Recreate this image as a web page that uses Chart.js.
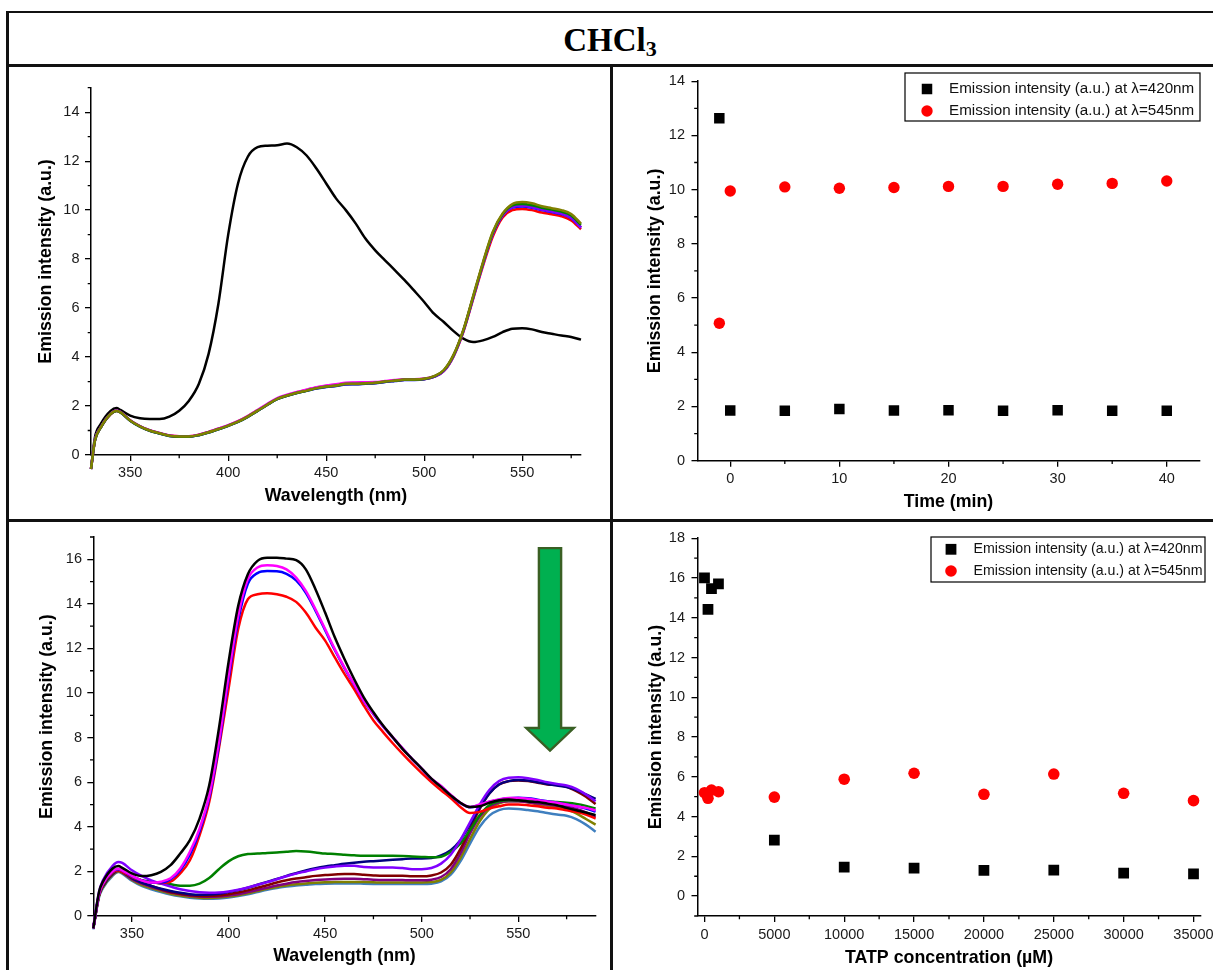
<!DOCTYPE html>
<html>
<head>
<meta charset="utf-8">
<script src="https://cdn.jsdelivr.net/npm/chart.js"></script>
<style>
  html, body { margin: 0; padding: 0; background: #fff; }
  body { width: 1213px; height: 970px; overflow: hidden; position: relative; }
  .rule { position: absolute; background: #111; }
  .panel { position: absolute; }
  #title {
    position: absolute; left: 8px; width: 1204px; top: 22px; line-height: 33px;
    text-align: center; color: #000;
    font: bold 33px "Liberation Serif", "Times New Roman", serif;
  }
  #title sub { font-size: 22px; vertical-align: -5px; line-height: 0; }
</style>
</head>
<body>
<div class="rule" style="left:6px;top:10.7px;width:1207px;height:2.6px"></div>
<div class="rule" style="left:6px;top:10.7px;width:2.5px;height:960px"></div>
<div class="rule" style="left:6px;top:64px;width:1207px;height:2.6px"></div>
<div class="rule" style="left:6px;top:519px;width:1207px;height:2.6px"></div>
<div class="rule" style="left:610.4px;top:64px;width:2.2px;height:906px"></div>
<div id="title">CHCl<sub>3</sub></div>

<canvas id="tl" class="panel" width="580" height="445" style="left:20px;top:70px"></canvas>
<canvas id="tr" class="panel" width="611" height="449" style="left:614px;top:66px"></canvas>
<canvas id="bl" class="panel" width="588" height="447" style="left:20px;top:523px"></canvas>
<canvas id="br" class="panel" width="611" height="447" style="left:614px;top:523px"></canvas>

<script>
// ---------- Spectra, time series (top row) ----------
const wlTop = [330,332,335,340,343,345,350,355,360,365,370,375,380,385,390,395,400,405,410,415,420,425,430,435,440,445,450,455,460,465,470,475,480,485,490,495,500,505,510,515,520,525,530,535,540,545,550,555,560,565,570,575,580];

const tlBlack   = [-0.57,0.72,1.27,1.8,1.92,1.84, 1.61,1.5,1.47,1.47,1.57,1.81,2.22,2.9,4.13,6.18, 9.0,11.09,12.18,12.57,12.63,12.65,12.72,12.57,12.23,11.7, 11.09,10.48,10.0,9.46,8.84,8.36,7.95,7.55,7.14,6.7, 6.25,5.77,5.43,5.06,4.75,4.61,4.68,4.82,5.02,5.16, 5.18,5.13,5.02,4.95,4.88,4.82,4.71];
const tlRed     = [-0.57,0.59,1.13,1.66,1.8,1.74, 1.41,1.17,1.0,0.89,0.8,0.77,0.77,0.83,0.94,1.07, 1.21,1.38,1.59,1.83,2.07,2.3,2.44,2.56,2.66,2.76, 2.82,2.87,2.93,2.94,2.95,2.96,3.0,3.04,3.07,3.07, 3.1,3.19,3.42,4.03,5.03,6.38,7.72,8.92,9.7,10.0, 10.05,10.0,9.9,9.83,9.75,9.58,9.22];
const tlBlue    = [-0.57,0.6,1.14,1.68,1.81,1.75, 1.4,1.16,0.99,0.88,0.78,0.75,0.75,0.81,0.92,1.05, 1.19,1.35,1.56,1.8,2.05,2.28,2.42,2.53,2.62,2.71, 2.78,2.82,2.88,2.89,2.91,2.93,2.98,3.02,3.06,3.06, 3.09,3.19,3.43,4.05,5.07,6.43,7.8,9.02,9.77,10.1, 10.15,10.1,10.0,9.92,9.84,9.67,9.28];
const tlMagenta = [-0.57,0.6,1.14,1.69,1.82,1.76, 1.42,1.18,1.01,0.9,0.8,0.77,0.77,0.83,0.94,1.08, 1.22,1.38,1.59,1.84,2.09,2.32,2.46,2.57,2.67,2.77, 2.84,2.89,2.95,2.96,2.97,2.98,3.02,3.06,3.09,3.09, 3.12,3.21,3.44,4.06,5.08,6.44,7.81,9.04,9.8,10.15, 10.2,10.14,10.04,9.96,9.88,9.7,9.3];
const tlViolet  = [-0.57,0.59,1.13,1.68,1.81,1.75, 1.41,1.17,1.0,0.89,0.79,0.76,0.76,0.82,0.93,1.06, 1.2,1.36,1.57,1.81,2.06,2.29,2.43,2.54,2.63,2.73, 2.79,2.83,2.89,2.9,2.92,2.94,2.99,3.03,3.07,3.07, 3.1,3.2,3.44,4.06,5.08,6.44,7.81,9.04,9.79,10.12, 10.18,10.12,10.02,9.94,9.86,9.69,9.3];
const tlGreen   = [-0.57,0.58,1.12,1.67,1.8,1.74, 1.4,1.16,0.99,0.88,0.78,0.75,0.75,0.81,0.92,1.05, 1.19,1.35,1.56,1.8,2.05,2.28,2.42,2.53,2.62,2.72, 2.79,2.83,2.9,2.9,2.92,2.94,2.99,3.03,3.07,3.07, 3.1,3.21,3.46,4.08,5.1,6.47,7.84,9.08,9.83,10.2, 10.25,10.2,10.1,10.02,9.94,9.78,9.4];
const tlOlive   = [-0.57,0.59,1.13,1.68,1.81,1.75, 1.41,1.17,1.0,0.89,0.79,0.76,0.76,0.82,0.93,1.06, 1.2,1.36,1.57,1.81,2.06,2.29,2.43,2.54,2.63,2.73, 2.8,2.84,2.91,2.91,2.93,2.95,3.0,3.04,3.08,3.08, 3.11,3.22,3.47,4.1,5.12,6.5,7.88,9.12,9.86,10.25, 10.33,10.28,10.16,10.08,10.0,9.84,9.45];

const trTime = [-1, 0, 5, 10, 15, 20, 25, 30, 35, 40];
const trI420 = [12.63, 1.85, 1.84, 1.91, 1.85, 1.86, 1.84, 1.86, 1.84, 1.84];
const trI545 = [5.07, 9.95, 10.1, 10.05, 10.08, 10.12, 10.12, 10.2, 10.23, 10.32];

// ---------- Spectra, TATP titration (bottom row) ----------
const wlBottom = [330,333,335,340,343,345,350,355,360,365,370,375,380,385,390,395,400,405,410,415,420,425,430,435,440,445,450,455,460,465,470,475,480,485,490,495,500,505,510,515,520,525,530,535,540,545,550,555,560,565,570,575,580,585,590];

const blBlack   = [-0.55,1.09,1.54,2.13,2.24,2.16, 1.91,1.79,1.83,1.98,2.28,2.8,3.4,4.37,5.86,8.4, 11.38,13.91,15.33,15.93,16.07,16.07,16.03,15.96,15.55,14.66, 13.61,12.5,11.53,10.63,9.81,9.14,8.54,8.02,7.5,7.05, 6.61,6.16,5.79,5.41,5.08,4.89,4.92,5.08,5.19,5.22, 5.19,5.14,5.11,5.04,4.97,4.85,4.74,4.64,4.52];
const blMagenta = [-0.55,1.0,1.45,2.0,2.12,2.05, 1.8,1.6,1.5,1.54,1.69,2.13,2.88,3.92,5.41,7.8, 10.78,13.47,15.11,15.63,15.73,15.7,15.55,15.18,14.58,13.76, 12.87,11.97,11.15,10.41,9.66,9.07,8.51,8.02,7.53,7.05, 6.61,6.16,5.83,5.44,5.08,4.89,5.0,5.14,5.23,5.29, 5.29,5.26,5.19,5.14,5.08,5.0,4.92,4.85,4.74];
const blBlue    = [-0.55,1.0,1.45,2.0,2.1,2.03, 1.78,1.6,1.5,1.5,1.65,2.05,2.75,3.8,5.3,7.65, 10.6,13.25,14.9,15.38,15.47,15.46,15.35,15.05,14.5,13.7, 12.82,11.93,11.12,10.38,9.64,9.05,8.5,8.0,7.52,7.04, 6.6,6.15,5.82,5.42,5.06,4.88,4.98,5.12,5.22,5.28, 5.3,5.28,5.22,5.15,5.08,5.0,4.92,4.82,4.68];
const blRed     = [-0.55,0.95,1.4,1.95,2.05,1.98, 1.75,1.6,1.5,1.48,1.54,1.91,2.5,3.62,5.11,7.5, 10.18,12.87,14.21,14.43,14.48,14.43,14.32,14.09,13.61,12.94, 12.35,11.6,10.86,10.18,9.44,8.77,8.25,7.75,7.28,6.83, 6.41,6.01,5.64,5.29,4.89,4.62,4.67,4.82,4.92,5.0, 5.0,4.97,4.92,4.86,4.82,4.74,4.67,4.55,4.37];
const blGreen   = [-0.55,0.95,1.4,1.95,2.08,2.0, 1.76,1.61,1.54,1.46,1.42,1.36,1.36,1.45,1.7,2.1, 2.45,2.68,2.78,2.8,2.83,2.85,2.88,2.91,2.89,2.85, 2.8,2.78,2.75,2.72,2.7,2.7,2.7,2.7,2.69,2.67, 2.65,2.63,2.66,2.88,3.25,3.85,4.52,4.97,5.14,5.19, 5.19,5.16,5.16,5.14,5.11,5.08,5.03,4.94,4.82];
const blNavy    = [-0.55,0.95,1.35,1.9,2.05,1.98, 1.7,1.5,1.35,1.22,1.12,1.04,0.98,0.95,0.96,1.0, 1.07,1.16,1.27,1.4,1.53,1.66,1.8,1.92,2.04,2.14, 2.22,2.28,2.34,2.39,2.43,2.46,2.49,2.52,2.55,2.58, 2.58,2.6,2.72,2.95,3.4,4.1,4.85,5.5,5.9,6.05, 6.1,6.08,6.0,5.92,5.85,5.78,5.65,5.45,5.25];
const blViolet  = [-0.5,1.1,1.6,2.25,2.42,2.38, 2.05,1.8,1.6,1.45,1.32,1.2,1.12,1.06,1.04,1.05, 1.1,1.18,1.28,1.4,1.52,1.65,1.78,1.9,2.0,2.1, 2.17,2.22,2.25,2.25,2.2,2.18,2.18,2.18,2.15,2.1, 2.1,2.15,2.35,2.75,3.4,4.2,5.0,5.65,6.05,6.2, 6.22,6.18,6.1,6.0,5.92,5.85,5.7,5.45,5.15];
const blWine    = [-0.55,0.95,1.35,1.9,2.05,1.98, 1.7,1.5,1.35,1.2,1.08,1.0,0.94,0.9,0.9,0.92, 0.98,1.05,1.15,1.27,1.38,1.5,1.6,1.68,1.74,1.8, 1.84,1.86,1.88,1.88,1.85,1.82,1.8,1.8,1.8,1.78, 1.78,1.82,1.95,2.3,3.0,3.9,4.8,5.5,5.9,6.05, 6.08,6.05,5.98,5.9,5.88,5.8,5.6,5.35,5.02];
const blPurple  = [-0.55,0.95,1.35,1.88,2.03,1.95, 1.65,1.45,1.3,1.17,1.05,0.97,0.91,0.87,0.86,0.87, 0.92,0.98,1.07,1.17,1.27,1.37,1.45,1.52,1.57,1.61, 1.64,1.66,1.67,1.67,1.65,1.63,1.62,1.62,1.61,1.6, 1.6,1.63,1.75,2.1,2.8,3.7,4.45,4.9,5.1,5.15, 5.15,5.1,5.05,5.0,4.95,4.9,4.8,4.65,4.45];
const blOlive   = [-0.55,0.9,1.3,1.85,2.0,1.93, 1.62,1.4,1.25,1.12,1.0,0.92,0.86,0.82,0.81,0.83, 0.87,0.93,1.02,1.12,1.22,1.3,1.37,1.42,1.46,1.49, 1.51,1.52,1.53,1.53,1.52,1.51,1.5,1.5,1.5,1.5, 1.5,1.52,1.62,1.95,2.6,3.45,4.25,4.8,5.05,5.15, 5.15,5.1,5.0,4.95,4.9,4.8,4.6,4.35,4.1];
const blSteel   = [-0.6,0.85,1.25,1.8,1.97,1.9, 1.58,1.35,1.2,1.07,0.96,0.88,0.82,0.78,0.77,0.79, 0.83,0.9,0.98,1.08,1.18,1.26,1.32,1.37,1.4,1.43, 1.45,1.46,1.46,1.46,1.45,1.44,1.43,1.43,1.43,1.43, 1.43,1.45,1.55,1.85,2.45,3.25,4.0,4.5,4.75,4.82, 4.8,4.75,4.7,4.62,4.55,4.5,4.35,4.1,3.78];

const brConc = [0, 250, 500, 1000, 5000, 10000, 15000, 20000, 25000, 30000, 35000];
const brI420 = [16.0, 14.42, 15.46, 15.7, 2.81, 1.46, 1.41, 1.3, 1.31, 1.15, 1.12];
const brI545 = [5.2, 4.92, 5.33, 5.25, 4.98, 5.88, 6.18, 5.12, 6.14, 5.17, 4.8];

// ---------- Axis tick values ----------
const tlXMajor = [350, 400, 450, 500, 550], tlXMinor = [375, 425, 475, 525, 575];
const tlYMajor = [0, 2, 4, 6, 8, 10, 12, 14], tlYMinor = [1, 3, 5, 7, 9, 11, 13, 15];
const trXMajor = [0, 10, 20, 30, 40], trXMinor = [5, 15, 25, 35];
const trYMajor = [0, 2, 4, 6, 8, 10, 12, 14], trYMinor = [1, 3, 5, 7, 9, 11, 13];
const blXMajor = [350, 400, 450, 500, 550], blXMinor = [375, 425, 475, 525, 575];
const blYMajor = [0, 2, 4, 6, 8, 10, 12, 14, 16], blYMinor = [1, 3, 5, 7, 9, 11, 13, 15, 17];
const brXMajor = [0, 5000, 10000, 15000, 20000, 25000, 30000, 35000];
const brXMinor = [2500, 7500, 12500, 17500, 22500, 27500, 32500];
const brYMajor = [0, 2, 4, 6, 8, 10, 12, 14, 16, 18], brYMinor = [-1, 1, 3, 5, 7, 9, 11, 13, 15, 17];

const yTitle = 'Emission intensity (a.u.)';
const label420 = 'Emission intensity (a.u.) at \u03bb=420nm';
const label545 = 'Emission intensity (a.u.) at \u03bb=545nm';

// ---------- Shared helpers ----------
const FONT = '"Liberation Sans", Arial, Helvetica, sans-serif';
Chart.defaults.font.family = FONT;
Chart.defaults.animation = false;

const pts = (xs, ys) => xs.map((x, i) => ({ x: x, y: ys[i] }));

function axis(o) {
  const horiz = o.position === 'bottom';
  return {
    type: 'linear', position: o.position, min: o.min, max: o.max,
    afterFit: s => { if (horiz) s.height = o.size; else s.width = o.size; },
    afterBuildTicks: s => { s.ticks = o.major.map(v => ({ value: v })); },
    grid: { drawOnChartArea: false, drawTicks: true, tickLength: 6, color: '#000', lineWidth: 1.3 },
    border: { display: true, color: '#000', width: 1.5 },
    ticks: {
      autoSkip: false, maxRotation: 0, minRotation: 0, padding: o.tickPad,
      color: '#1a1a1a', font: { family: FONT, size: 14.5 },
      callback: v => String(v)
    },
    title: {
      display: true, text: o.title, color: '#000',
      font: { family: FONT, size: 17.8, weight: 'bold' },
      padding: horiz ? { top: 0, bottom: o.titlePad } : { top: o.titlePad, bottom: 0 }
    }
  };
}

// short outward minor ticks between the labelled ones
const minorTicks = {
  id: 'minorTicks',
  afterDraw(chart, args, o) {
    const { ctx, chartArea, scales } = chart;
    ctx.save();
    ctx.strokeStyle = '#000';
    ctx.lineWidth = 1.3;
    ctx.beginPath();
    (o.x || []).forEach(v => {
      const p = scales.x.getPixelForValue(v);
      ctx.moveTo(p, chartArea.bottom); ctx.lineTo(p, chartArea.bottom + o.len);
    });
    (o.y || []).forEach(v => {
      const p = scales.y.getPixelForValue(v);
      ctx.moveTo(chartArea.left, p); ctx.lineTo(chartArea.left - o.len, p);
    });
    ctx.stroke();
    ctx.restore();
  }
};

// framed legend with one row per dataset (positions in page pixels)
const boxedLegend = {
  id: 'boxedLegend',
  afterDraw(chart, args, o) {
    const ctx = chart.ctx;
    const r = chart.canvas.getBoundingClientRect();
    ctx.save();
    ctx.translate(-r.left, -r.top);
    const [l, t, rr, b] = o.box;
    ctx.fillStyle = '#fff';
    ctx.fillRect(l, t, rr - l, b - t);
    ctx.strokeStyle = '#000';
    ctx.lineWidth = 1.2;
    ctx.strokeRect(l, t, rr - l, b - t);
    ctx.font = o.fontSize + 'px ' + FONT;
    ctx.textBaseline = 'middle';
    ctx.textAlign = 'left';
    chart.data.datasets.forEach((ds, i) => {
      const y = o.rows[i];
      ctx.fillStyle = ds.backgroundColor;
      if (ds.pointStyle === 'rect') {
        ctx.fillRect(o.markerX - o.square / 2, y - o.square / 2, o.square, o.square);
      } else {
        ctx.beginPath(); ctx.arc(o.markerX, y, o.dot, 0, Math.PI * 2); ctx.fill();
      }
      ctx.fillStyle = '#111';
      ctx.fillText(ds.label, o.textX, y);
    });
    ctx.restore();
  }
};

// block arrow marking the decrease of the 420 nm band
const downArrow = {
  id: 'downArrow',
  afterDatasetsDraw(chart, args, o) {
    const { ctx, scales } = chart;
    const cx = scales.x.getPixelForValue(o.x);
    const top = scales.y.getPixelForValue(o.top);
    const neck = scales.y.getPixelForValue(o.neck);
    const tip = scales.y.getPixelForValue(o.tip);
    ctx.save();
    ctx.beginPath();
    ctx.moveTo(cx - o.shaft, top);
    ctx.lineTo(cx + o.shaft, top);
    ctx.lineTo(cx + o.shaft, neck);
    ctx.lineTo(cx + o.head, neck);
    ctx.lineTo(cx, tip);
    ctx.lineTo(cx - o.head, neck);
    ctx.lineTo(cx - o.shaft, neck);
    ctx.closePath();
    ctx.fillStyle = '#00b050';
    ctx.fill();
    ctx.lineWidth = 2.4;
    ctx.lineJoin = 'miter';
    ctx.strokeStyle = '#3a5f24';
    ctx.stroke();
    ctx.restore();
  }
};

function spectrum(label, xs, ys, color) {
  return {
    label: label, data: pts(xs, ys), borderColor: color, backgroundColor: color,
    borderWidth: 2.5, pointRadius: 0, cubicInterpolationMode: 'monotone',
    fill: false, clip: false
  };
}

function markers(label, xs, ys, color, style, radius) {
  return {
    label: label, data: pts(xs, ys), showLine: false,
    backgroundColor: color, pointBackgroundColor: color,
    borderColor: color, pointBorderColor: color,
    borderWidth: 0, pointBorderWidth: 0,
    pointStyle: style, pointRadius: radius, pointHoverRadius: radius
  };
}

const basePlugins = { legend: { display: false }, tooltip: { enabled: false } };

// ---------- Top left: spectra vs wavelength ----------
new Chart(document.getElementById('tl'), {
  type: 'line',
  data: {
    datasets: [
      spectrum('6', wlTop, tlOlive, '#808000'),
      spectrum('5', wlTop, tlGreen, '#008000'),
      spectrum('4', wlTop, tlViolet, '#8000ff'),
      spectrum('3', wlTop, tlMagenta, '#ff00ff'),
      spectrum('2', wlTop, tlBlue, '#0000ff'),
      spectrum('1', wlTop, tlRed, '#ff0000'),
      spectrum('0', wlTop, tlBlack, '#000000')
    ]
  },
  options: {
    responsive: false, devicePixelRatio: 1, events: [],
    layout: { padding: { top: 17.7, right: 19, left: 0, bottom: 0 } },
    scales: {
      x: axis({ position: 'bottom', min: 330, max: 580, size: 60, major: tlXMajor, tickPad: 3.3, title: 'Wavelength (nm)', titlePad: 8.3 }),
      y: axis({ position: 'left', min: 0, max: 15, size: 71, major: tlYMajor, tickPad: 5.5, title: '    ' + yTitle, titlePad: 15.3 })
    },
    plugins: Object.assign({}, basePlugins, { minorTicks: { x: tlXMinor, y: tlYMinor, len: 3.3 } })
  },
  plugins: [minorTicks]
});

// ---------- Top right: intensity vs time ----------
new Chart(document.getElementById('tr'), {
  type: 'scatter',
  data: {
    datasets: [
      markers(label420, trTime, trI420, '#000000', 'rect', 7.4),
      markers(label545, trTime, trI545, '#ff0000', 'circle', 5.7)
    ]
  },
  options: {
    responsive: false, devicePixelRatio: 1, events: [],
    layout: { padding: { top: 11.8, right: 25.5, left: 0, bottom: 0 } },
    scales: {
      x: axis({ position: 'bottom', min: -3, max: 43, size: 54.3, major: trXMajor, tickPad: 3.6, title: 'Time (min)', titlePad: 2.6 }),
      y: axis({ position: 'left', min: 0, max: 14, size: 83.5, major: trYMajor, tickPad: 6.5, title: yTitle, titlePad: 30.3 })
    },
    plugins: Object.assign({}, basePlugins, {
      minorTicks: { x: trXMinor, y: trYMinor, len: 3.3 },
      boxedLegend: { box: [905, 73, 1200, 121], rows: [89, 111], markerX: 927, textX: 949, fontSize: 15.2, square: 10.5, dot: 5.7 }
    })
  },
  plugins: [minorTicks, boxedLegend]
});

// ---------- Bottom left: spectra with increasing TATP ----------
new Chart(document.getElementById('bl'), {
  type: 'line',
  data: {
    datasets: [
      spectrum('0', wlBottom, blBlack, '#000000'),
      spectrum('1', wlBottom, blMagenta, '#ff00ff'),
      spectrum('2', wlBottom, blBlue, '#0000ff'),
      spectrum('3', wlBottom, blRed, '#ff0000'),
      spectrum('4', wlBottom, blViolet, '#8000ff'),
      spectrum('5', wlBottom, blGreen, '#008000'),
      spectrum('6', wlBottom, blNavy, '#000080'),
      spectrum('7', wlBottom, blWine, '#800000'),
      spectrum('8', wlBottom, blPurple, '#800080'),
      spectrum('9', wlBottom, blOlive, '#808000'),
      spectrum('10', wlBottom, blSteel, '#3f7fbf')
    ]
  },
  options: {
    responsive: false, devicePixelRatio: 1, events: [],
    layout: { padding: { top: 12.7, right: 12.4, left: 0, bottom: 0 } },
    scales: {
      x: axis({ position: 'bottom', min: 330, max: 590, size: 54, major: blXMajor, tickPad: 2.8, title: 'Wavelength (nm)', titlePad: 3.6 }),
      y: axis({ position: 'left', min: 0, max: 17, size: 73.3, major: blYMajor, tickPad: 5.3, title: '    ' + yTitle, titlePad: 16.8 })
    },
    plugins: Object.assign({}, basePlugins, {
      minorTicks: { x: blXMinor, y: blYMinor, len: 3.3 },
      downArrow: { x: 566.4, top: 16.5, neck: 8.43, tip: 7.42, shaft: 11.1, head: 23.8 }
    })
  },
  plugins: [minorTicks, downArrow]
});

// ---------- Bottom right: intensity vs TATP concentration ----------
new Chart(document.getElementById('br'), {
  type: 'scatter',
  data: {
    datasets: [
      markers(label420, brConc, brI420, '#000000', 'rect', 7.6),
      markers(label545, brConc, brI545, '#ff0000', 'circle', 5.8)
    ]
  },
  options: {
    responsive: false, devicePixelRatio: 1, events: [],
    layout: { padding: { top: 10.3, right: 24.5, left: 0, bottom: 0 } },
    scales: {
      x: axis({ position: 'bottom', min: -500, max: 35500, size: 54, major: brXMajor, tickPad: 4.5, title: 'TATP concentration (\u00b5M)', titlePad: 1.0 }),
      y: axis({ position: 'left', min: -1, max: 18, size: 83.5, major: brYMajor, tickPad: 6.5, title: yTitle, titlePad: 31.3 })
    },
    plugins: Object.assign({}, basePlugins, {
      minorTicks: { x: brXMinor, y: brYMinor, len: 3.3 },
      boxedLegend: { box: [931, 537, 1205, 582], rows: [549.3, 571], markerX: 951, textX: 973.5, fontSize: 14.2, square: 10.8, dot: 5.8 }
    })
  },
  plugins: [minorTicks, boxedLegend]
});
</script>
</body>
</html>
